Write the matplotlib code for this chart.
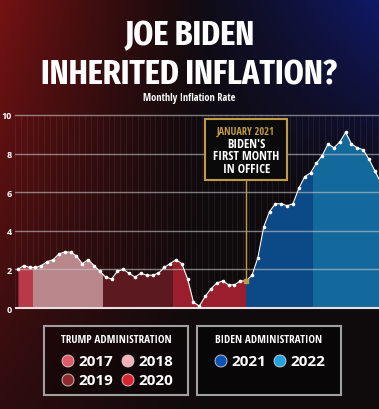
import numpy as np
import matplotlib
matplotlib.use("Agg")
import matplotlib.pyplot as plt
from matplotlib.patches import Rectangle, Circle

# Monthly CPI inflation (%), Oct 2017 - Dec 2022
years = ["2017", "2018", "2019", "2020", "2021", "2022"]
rate_2017 = [2.0, 2.2, 2.1]  # Oct-Dec
rate_2018 = [2.1, 2.2, 2.4, 2.5, 2.8, 2.9, 2.9, 2.7, 2.3, 2.5, 2.2, 1.9]
rate_2019 = [1.6, 1.5, 1.9, 2.0, 1.8, 1.6, 1.8, 1.7, 1.7, 1.8, 2.1, 2.3]
rate_2020 = [2.5, 2.3, 1.5, 0.3, 0.1, 0.6, 1.0, 1.3, 1.4, 1.2, 1.2, 1.4]
rate_2021 = [1.4, 1.7, 2.6, 4.2, 5.0, 5.4, 5.4, 5.3, 5.4, 6.2, 6.8, 7.0]
rate_2022 = [7.5, 7.9, 8.5, 8.3, 8.6, 9.1, 8.5, 8.3, 8.2, 7.7, 7.1, 6.5]
yearly = [rate_2017, rate_2018, rate_2019, rate_2020, rate_2021, rate_2022]

fill_colors = ["#b83a48", "#b9868c", "#5c1a20", "#9a1e2b", "#0b4a86", "#13699c"]
legend_colors = ["#e05a68", "#f2b2b8", "#8e2a2e", "#d9232e", "#0a52b5", "#1fa3e0"]

rate = np.concatenate(yearly)
x = np.arange(len(rate))
starts = np.cumsum([0] + [len(r) for r in yearly])

W, H = 379, 410
fig = plt.figure(figsize=(W / 100, H / 100), dpi=100)
cond = ["Open Sans Condensed", "DejaVu Sans"]
narrow = ["Fira Sans Extra Condensed", "Open Sans Condensed", "DejaVu Sans"]
sans = ["Open Sans", "DejaVu Sans"]

# background gradient: red on the left, blue at the top right, dark elsewhere
bg = fig.add_axes([0, 0, 1, 1], zorder=0)
gx = np.linspace(0, 1, 300)
gy = np.linspace(0, 1, 300)[:, None]
red = np.clip(1 - gx / 0.55, 0, 1) ** 1.2 * (1 - 0.7 * gy)
blue = np.clip((gx - 0.45) / 0.55, 0, 1) ** 1.2 * np.clip(1 - gy / 0.5, 0, 1)
img = np.zeros((300, 300, 3))
img[..., 0] = 0.06 + 0.40 * red
img[..., 1] = 0.04 + 0.03 * red + 0.06 * blue
img[..., 2] = 0.05 + 0.02 * red + 0.36 * blue
bg.imshow(np.clip(img, 0, 1), extent=[0, W, H, 0], aspect="auto")
bg.set_xlim(0, W)
bg.set_ylim(H, 0)
bg.axis("off")

# titles
bg.text(W / 2, 36, "JOE BIDEN", color="white", fontsize=25, fontweight="bold",
        family=narrow, ha="center", va="center")
bg.text(W / 2, 75, "INHERITED INFLATION?", color="white", fontsize=25,
        fontweight="bold", family=narrow, ha="center", va="center")
bg.text(W / 2, 99, "Monthly Inflation Rate", color="white", fontsize=7.5,
        fontweight="bold", family=cond, ha="center", va="center")

# main chart
ax = fig.add_axes([15 / W, 1 - 314.8 / H, 1 - 15 / W, (314.8 - 110.2) / H], zorder=1)
ax.set_facecolor("none")
ax.set_xlim(-0.5, 61.7)
ax.set_ylim(-0.3, 10.3)
for s in ax.spines.values():
    s.set_visible(False)
ax.set_xticks([])
ax.set_yticks([0, 2, 4, 6, 8, 10])
ax.tick_params(axis="y", length=0, pad=2, labelsize=6.5, labelcolor="white")
for lab in ax.get_yticklabels():
    lab.set_fontweight("bold")
    lab.set_family(sans)

# faint monthly stripes inside the grid
for xi in np.arange(-0.5, 63, 1):
    ax.plot([xi, xi], [0, 10], color="white", alpha=0.06, lw=0.8, zorder=1)

jan21 = starts[4]
for i, c in enumerate(fill_colors):
    x0 = starts[i] - 0.5 if i > 0 else 0
    x1 = starts[i + 1] - 0.5 if i < len(fill_colors) - 1 else 70
    if i == 3:
        x1 = jan21
    if i == 4:
        x0 = jan21
    poly = ax.fill_between(x, 0, rate, color=c, lw=0, zorder=2)
    poly.set_clip_path(Rectangle((x0, -1), x1 - x0, 13, transform=ax.transData))

for yv in [2, 4, 6, 8, 10]:
    ax.axhline(yv, color="#c8c8c8", alpha=0.6, lw=1, zorder=3)
ax.axhline(0, color="#e8e0e0", lw=1.5, zorder=3)

ax.plot(x, rate, color="white", lw=0.8, marker="o", ms=2.6, mec="none", zorder=4)

# annotation
gold = "#c29a45"
ax.plot([jan21, jan21], [rate[jan21], 6.63], color=gold, lw=1, zorder=5)
ax.plot(jan21, rate[jan21], "s", color=gold, ms=3, zorder=6)
ax.add_patch(Rectangle((32.0, 6.63), 13.9, 3.17, facecolor="#0a0a0a", edgecolor=gold,
                       lw=1.5, zorder=5))
ax.text(jan21, 9.17, "JANUARY 2021", color=gold, fontsize=7.5, fontweight="bold",
        family=cond, ha="center", va="center", zorder=6)
ax.text(jan21, 7.88, "BIDEN'S\nFIRST MONTH\nIN OFFICE", color="white", fontsize=9,
        fontweight="bold", family=cond, ha="center", va="center", linespacing=0.95,
        zorder=6)

# legend boxes
for bx, title in [(44, "TRUMP ADMINISTRATION"), (197, "BIDEN ADMINISTRATION")]:
    bg.add_patch(Rectangle((bx, 327), 144, 69, facecolor="#000000", alpha=0.35,
                           edgecolor="none"))
    bg.add_patch(Rectangle((bx, 327), 144, 69, facecolor="none", edgecolor="#a0a0a0",
                           lw=1.5))
    bg.text(bx + 72, 341, title, color="white", fontsize=8, fontweight="bold",
            family=cond, ha="center", va="center")

slots = [(68, 362), (128, 362), (68, 381), (128, 381), (221, 362), (280, 362)]
for (cx, cy), yr, col in zip(slots, years, legend_colors):
    bg.add_patch(Circle((cx, cy), 6, facecolor=col, edgecolor="#e0d0d0", lw=0.6))
    bg.text(cx + 10, cy + 0.5, yr, color="white", fontsize=11, fontweight="bold",
            family=sans, ha="left", va="center")

fig.savefig("out.png", dpi=100)
